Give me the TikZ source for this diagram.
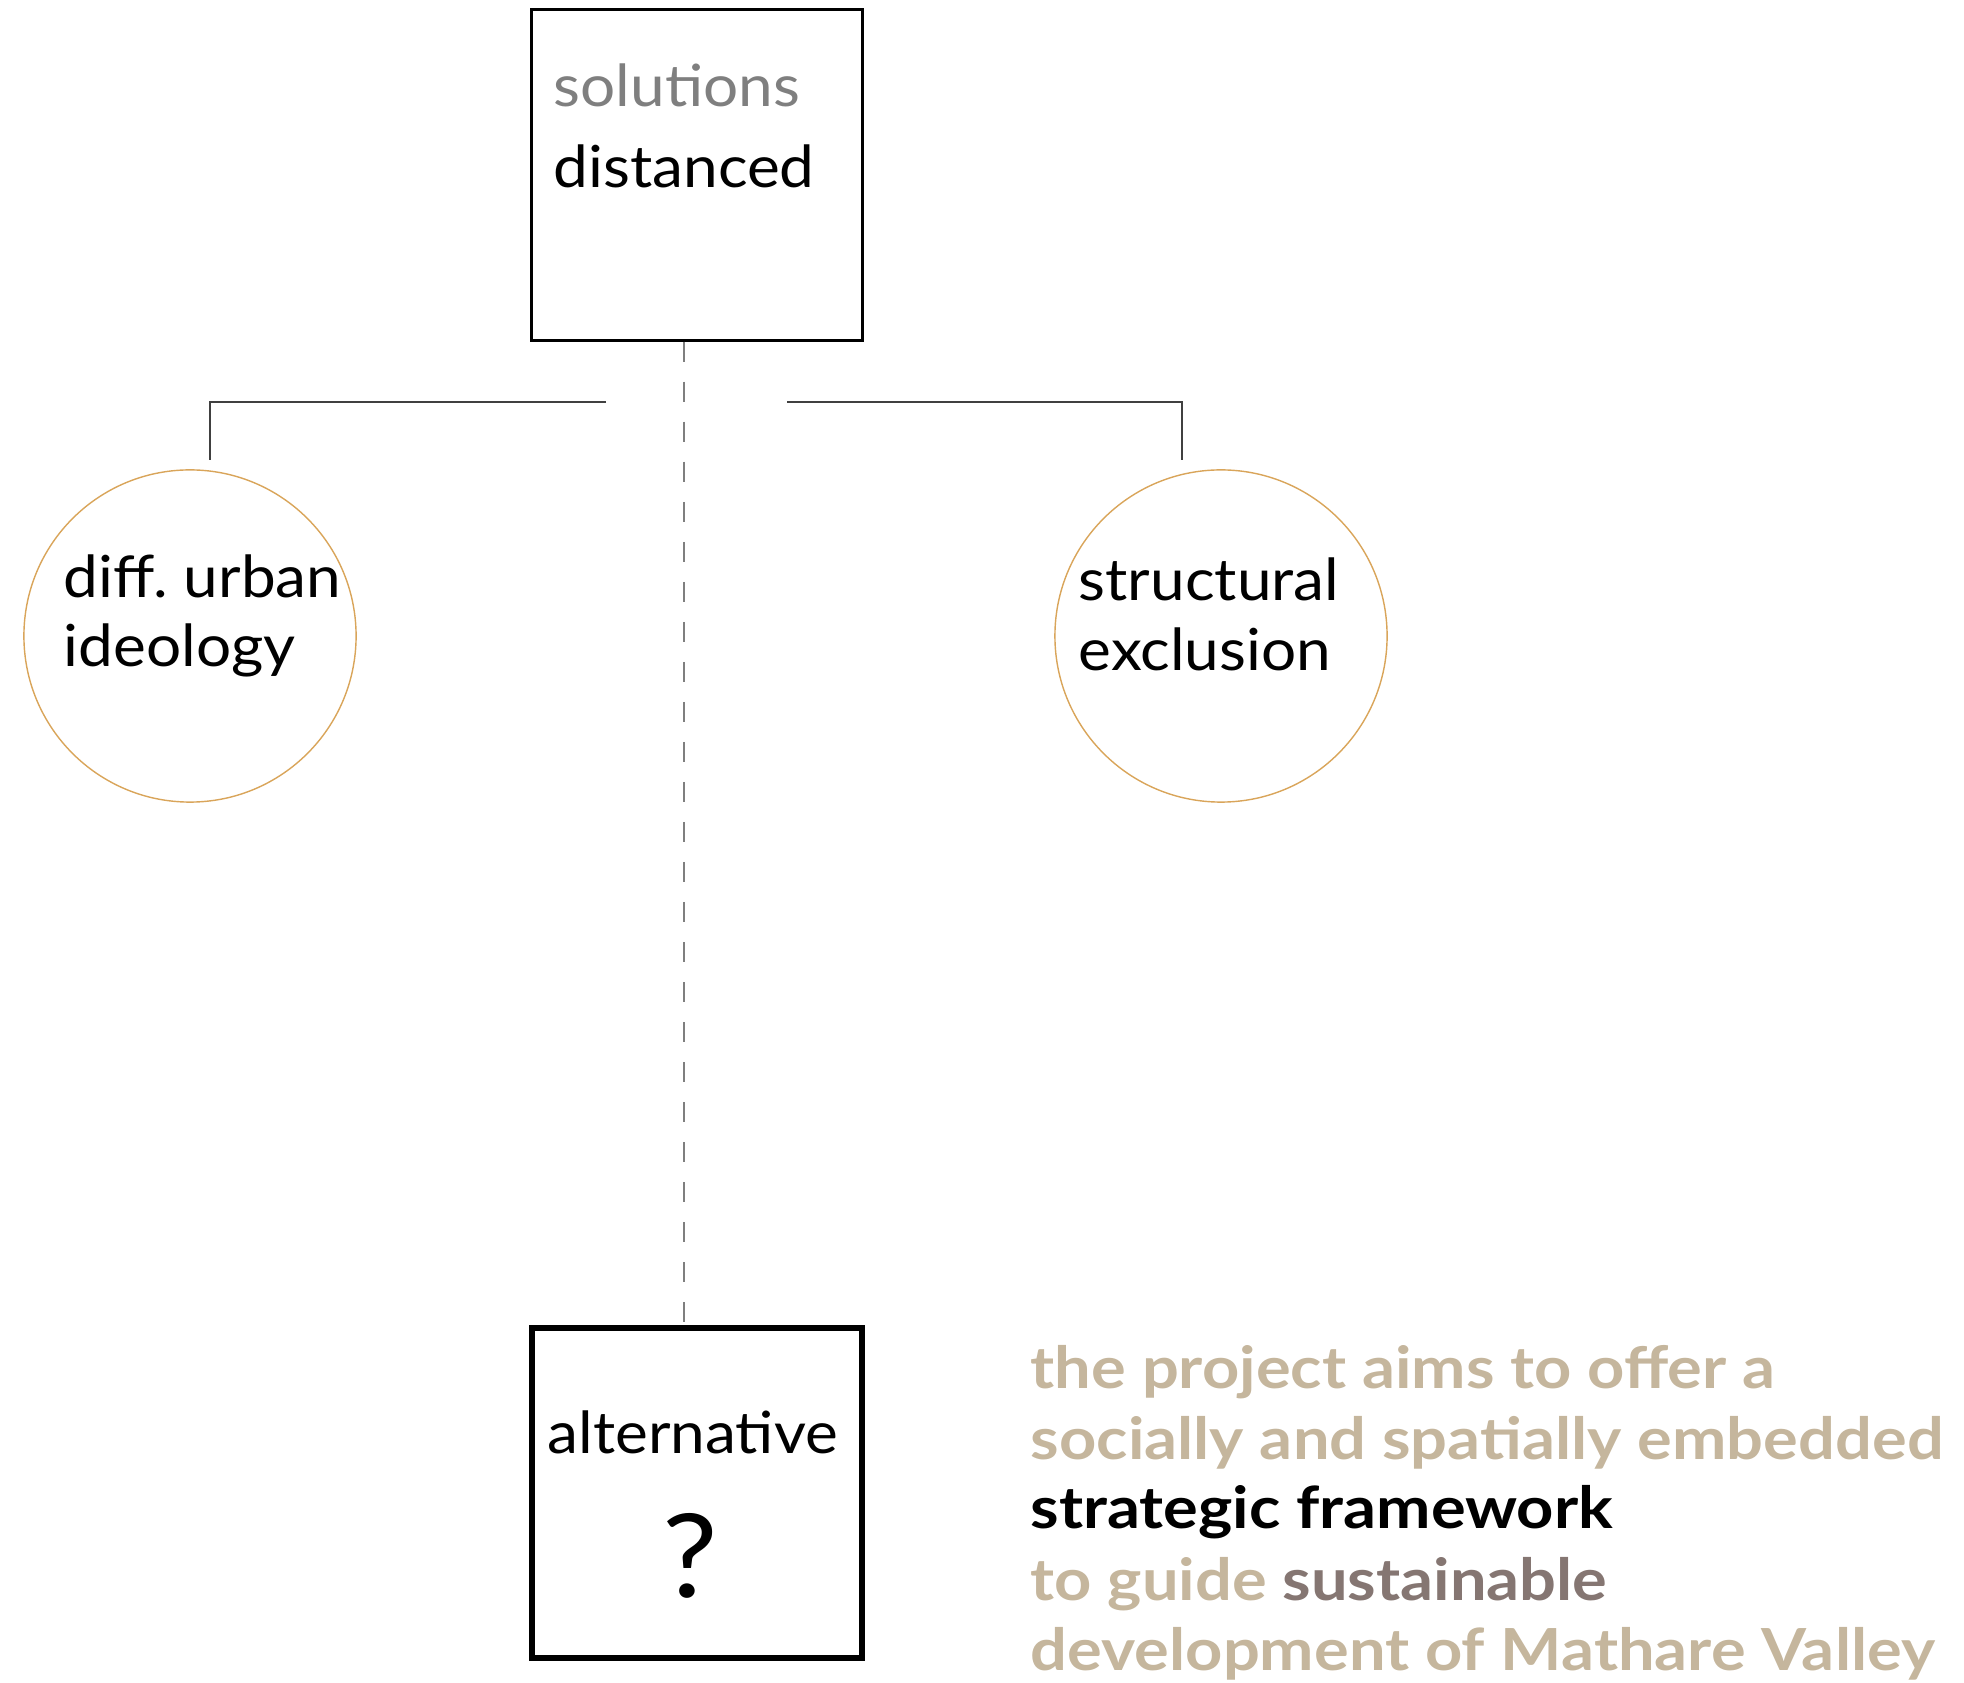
\documentclass[tikz,border=0pt]{standalone}
\usepackage{fontspec}
\setmainfont{Lato}[FakeStretch=1.07]
\newfontfamily\aimfont{Lato}[FakeStretch=1.12]
\usepackage{tikz}

\definecolor{ringcol}{HTML}{D9A55A}
\definecolor{sand}{HTML}{C5B69D}
\definecolor{mauve}{HTML}{857672}
\definecolor{soft}{HTML}{7F7F7F}

\tikzset{
  box/.style={draw,rectangle,minimum width=3.3cm,minimum height=3.3cm},
  ring/.style={draw=ringcol,circle,line width=0.4pt,minimum size=3.32cm},
  txt/.style={anchor=base west,inner sep=0pt,font=\fontsize{16.5}{20}\selectfont},
  aim/.style={txt,font=\aimfont\fontsize{16.5}{20}\selectfont\bfseries,text=sand},
  conn/.style={draw=black!75,line width=0.6pt},
}

\begin{document}
\begin{tikzpicture}[x=0.01cm,y=-0.01cm]
      \useasboundingbox (0,0) rectangle (1964,1683);

      \node[box,line width=0.9pt] (top) at (697,175) {};
      \node[box,line width=1.5pt] (alt) at (697,1493) {};
      \node[ring] (urban) at (190,636) {}; \node[ring] (excl) at (1221,636) {};

      \node[txt,text=soft] (sol) at (553,107) {solutions};
      \node[txt] (dist) at (553,188) {distanced};
      \node[txt] (u1) at (63,598) {diff.\ urban};
      \node[txt] (u2) at (63,667) {ideology};
      \node[txt] (e1) at (1078,601) {structural};
      \node[txt] (e2) at (1078,671) {exclusion};
      \node[txt,anchor=base] (alttxt) at (693,1453) {alternative};
      \node[txt,anchor=base,font=\fontsize{33}{36}\selectfont] (q) at (690,1597) {?};

      \node[aim] (p1) at (1030,1388) {the project aims to offer a};
      \node[aim] (p2) at (1030,1459) {socially and spatially embedded};
      \node[aim,text=black] (p3) at (1030,1528) {strategic framework};
      \node[aim] (p4) at (1030,1600) {to guide \textcolor{mauve}{sustainable}};
      \node[aim] (p5) at (1030,1670) {development of Mathare Valley};

      \coordinate (la) at (606,402); \coordinate (lb) at (210,460);
      \coordinate (ra) at (787,402); \coordinate (rb) at (1182,460);
      \draw[conn] (la) -| (lb);
      \draw[conn] (ra) -| (rb);

      \draw[soft,line width=0.5pt,dash pattern=on 0.2cm off 0.2cm]
        ([xshift=-0.13cm]top.south) -- ([xshift=-0.13cm]alt.north);
    \end{tikzpicture}
\end{document}
